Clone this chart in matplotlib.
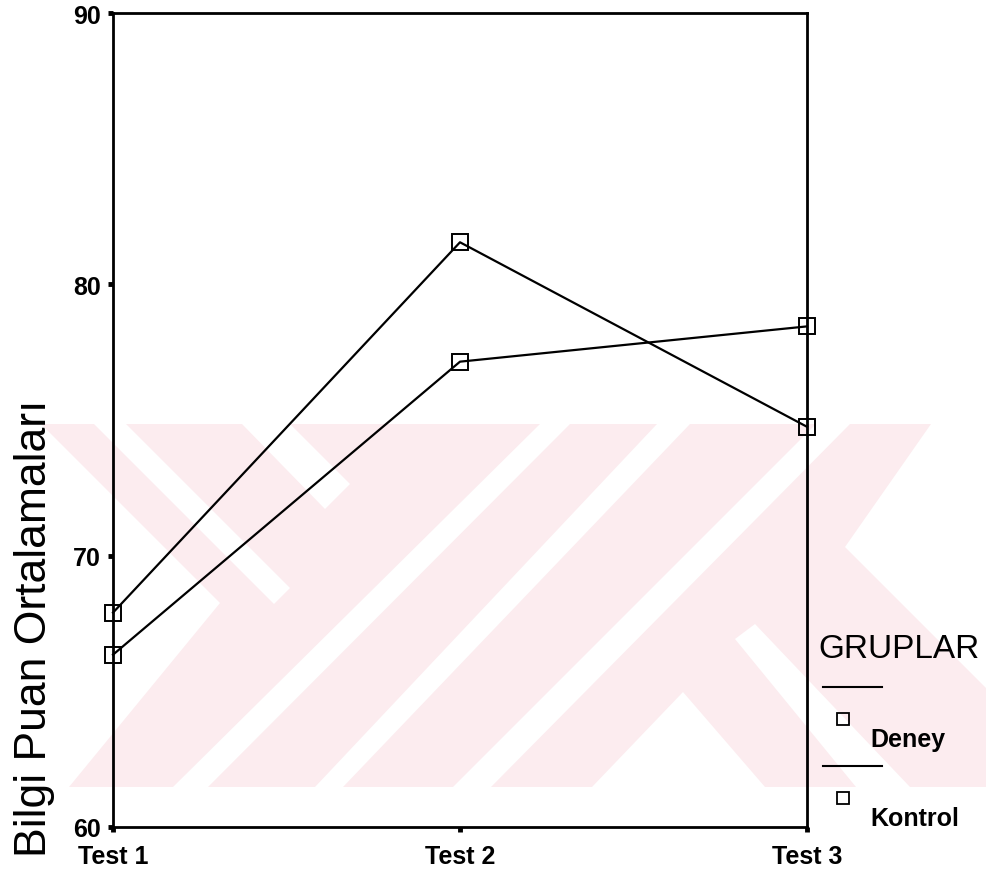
import matplotlib
matplotlib.use("Agg")
import matplotlib.pyplot as plt
from matplotlib.patches import Polygon, Rectangle
from matplotlib.lines import Line2D

## --- data ---
tests = ["Test 1", "Test 2", "Test 3"]
deney = [67.9, 81.55, 74.75]
kontrol = [66.35, 77.15, 78.45]
groups = ["Deney", "Kontrol"]
y_ticks = [60, 70, 80, 90]

W, H = 987, 879
plt.rcParams["font.family"] = ["Liberation Sans", "DejaVu Sans"]

fig = plt.figure(figsize=(W / 100, H / 100), dpi=100)


def px(pts):
    # pixel coords (y down) -> figure fraction
    return [(x / W, 1 - y / H) for x, y in pts]


## faint pink watermark band with white diagonal gaps
top, bot = 425, 788
fig.patches.append(Rectangle((0, 1 - bot / H), 1, (bot - top) / H,
                             transform=fig.transFigure, facecolor="#fcecef",
                             edgecolor="none", zorder=-2))
gaps = [
    [(0, top), (41, top), (220, 604), (69, bot), (0, bot)],
    [(94, top), (126, top), (290, 589), (274, 605)],
    [(242, top), (290, top), (350, 485), (325, 510)],
    [(540, top), (570, top), (208, bot), (173, bot)],
    [(657, top), (690, top), (343, bot), (315, bot)],
    [(816, top), (850, top), (491, bot), (453, bot)],
    [(683, 693), (765, bot), (592, bot)],
    [(735, 640), (755, 625), (910, bot), (856, bot)],
    [(931, top), (987, top), (987, 690), (845, 548)],
]
for g in gaps:
    fig.patches.append(Polygon(px(g), closed=True, transform=fig.transFigure,
                               facecolor="white", edgecolor="none", zorder=-1))

ax = fig.add_axes([113 / W, 1 - 828 / H, 694 / W, 814 / H], zorder=1)
ax.set_facecolor("none")

x = range(len(tests))
for vals in [deney, kontrol]:
    ax.plot(x, vals, color="black", lw=1.6, marker="s", ms=11,
            mfc="none", mec="black", mew=1.4, clip_on=False, zorder=3)

ax.set_xlim(0, len(tests) - 1)
ax.set_ylim(60, 90)
ax.set_xticks(list(x))
ax.set_xticklabels(tests, fontsize=18, fontweight="bold")
ax.set_yticks(y_ticks)
ax.set_yticklabels([str(v) for v in y_ticks], fontsize=18, fontweight="bold")
ax.tick_params(axis="both", direction="out", length=3.5, width=3.5)
ax.tick_params(axis="x", pad=9)
ax.tick_params(axis="y", pad=5)
for sp in ax.spines.values():
    sp.set_linewidth(2)

fig.text(35 / W, 1 - 628 / H, "Bilgi Puan Ortalamaları", rotation=90,
         fontsize=32, ha="center", va="center")

## hand-made legend on the right
fig.text(818 / W, 1 - 650 / H, "GRUPLAR", fontsize=24, ha="left", va="center")
for i, g in enumerate(groups):
    yl = 688 + i * 79
    fig.add_artist(Line2D([823 / W, 882 / W], [1 - yl / H, 1 - yl / H],
                          color="black", lw=1.5, transform=fig.transFigure))
    fig.add_artist(Line2D([843 / W], [1 - (yl + 32) / H], marker="s", ms=9,
                          mfc="none", mec="black", mew=1.3, ls="none",
                          transform=fig.transFigure))
    fig.text(870 / W, 1 - (yl + 52) / H, g, fontsize=18, fontweight="bold",
             ha="left", va="center")

fig.savefig("out.png", dpi=100)
